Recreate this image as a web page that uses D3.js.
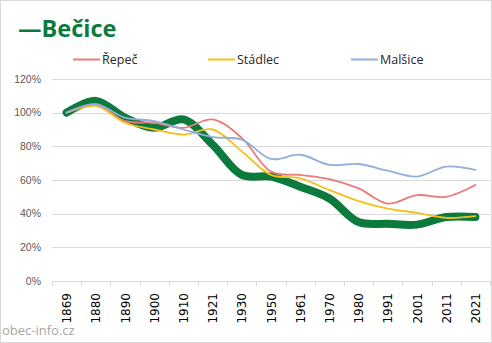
<!DOCTYPE html>
<html><head><meta charset="utf-8">
<script src="https://cdn.jsdelivr.net/npm/d3@7"></script>
<style>html,body{margin:0;padding:0;background:#fff;}</style>
</head><body>
<svg id="c" width="492" height="343"></svg>
<script>
const years = ["1869","1880","1890","1900","1910","1921","1930","1950","1961","1970","1980","1991","2001","2011","2021"];
const becice  = [100,107,97,91,96,81,63,62,56,49,35,34,33.5,38,38];
const repec   = [100,105,95,94,91,96,85,65,63,60.5,55,46,51,50,57];
const stadlec = [100,104,94,90,87,90,77,63,61,54,47.5,43,40.5,37.5,38.5];
const malsice = [100,105,97,95,90,85.5,84,72.5,75,69,69.5,65.5,62,68,66];
const yTicks = [0,20,40,60,80,100,120];

const svg = d3.select("#c");
svg.append("rect").attr("x",0.5).attr("y",0.5).attr("width",491).attr("height",342)
  .attr("fill","#fff").attr("stroke","#d9d9d9");

const L=52, R=490, T=79, B=281;
const x = d3.scaleBand().domain(years).range([L,R]);
const y = d3.scaleLinear().domain([0,120]).range([B,T]);

svg.append("g").selectAll("line").data(yTicks.filter(d=>d>0)).join("line")
  .attr("x1",L).attr("x2",R).attr("y1",d=>Math.round(y(d))+0.5).attr("y2",d=>Math.round(y(d))+0.5)
  .attr("stroke","#d9d9d9").attr("stroke-width",1);

svg.append("g").selectAll("text").data(yTicks).join("text")
  .attr("x",41).attr("y",d=>y(d)+3.5).attr("text-anchor","end")
  .attr("font-family","Liberation Sans, Arial, sans-serif").attr("font-size",10.5).attr("fill","#595959")
  .text(d=>d+"%");

const xa = svg.append("g").attr("transform",`translate(0,${B})`)
  .call(d3.axisBottom(x).tickSize(0).tickFormat(""));
xa.select(".domain").attr("stroke","#d9d9d9").attr("d",`M${L},0.5H${R}`);
svg.append("g").selectAll("line").data(d3.range(years.length+1)).join("line")
  .attr("x1",i=>Math.round(L+i*x.step())+0.5).attr("x2",i=>Math.round(L+i*x.step())+0.5)
  .attr("y1",B).attr("y2",B+5).attr("stroke","#d9d9d9");
svg.append("g").selectAll("text").data(years).join("text")
  .attr("transform",d=>`translate(${x(d)+x.bandwidth()/2+4.5},${B+12}) rotate(-90)`)
  .attr("text-anchor","end")
  .attr("font-family","DejaVu Sans, sans-serif").attr("font-size",12).attr("fill","#000")
  .text(d=>d);

const line = d3.line().x((d,i)=>x(years[i])+x.bandwidth()/2).y(d=>y(d)).curve(d3.curveCatmullRom.alpha(0.5));

const series = [
  {v:becice, c:"#0b7a3c", w:8},
  {v:repec, c:"#ec7a7a", w:1.8},
  {v:stadlec, c:"#f5be1a", w:1.8},
  {v:malsice, c:"#92aedb", w:1.8}
];
svg.append("g").selectAll("path").data(series).join("path")
  .attr("d",d=>line(d.v)).attr("fill","none").attr("stroke",d=>d.c).attr("stroke-width",d=>d.w)
  .attr("stroke-linecap","round").attr("stroke-linejoin","round");

svg.append("text").attr("x",18).attr("y",37)
  .attr("font-family","Open Sans, sans-serif").attr("font-weight","bold").attr("font-size",23.5).attr("fill","#0b7a3c")
  .text("—Bečice");

const leg = [{n:"Řepeč",c:"#ec7a7a",x:73},{n:"Stádlec",c:"#f5be1a",x:208},{n:"Malšice",c:"#92aedb",x:351}];
const lg = svg.append("g").selectAll("g").data(leg).join("g");
lg.append("line").attr("x1",d=>d.x).attr("x2",d=>d.x+27).attr("y1",59.5).attr("y2",59.5)
  .attr("stroke",d=>d.c).attr("stroke-width",2);
lg.append("text").attr("x",d=>d.x+29).attr("y",64)
  .attr("font-family","Open Sans, sans-serif").attr("font-size",12.5).attr("fill","#262626")
  .text(d=>d.n);

svg.append("text").attr("x",2).attr("y",335)
  .attr("font-family","Open Sans, sans-serif").attr("font-size",13).attr("fill","#a6a6a6")
  .text("obec-info.cz");
</script>
</body></html>
